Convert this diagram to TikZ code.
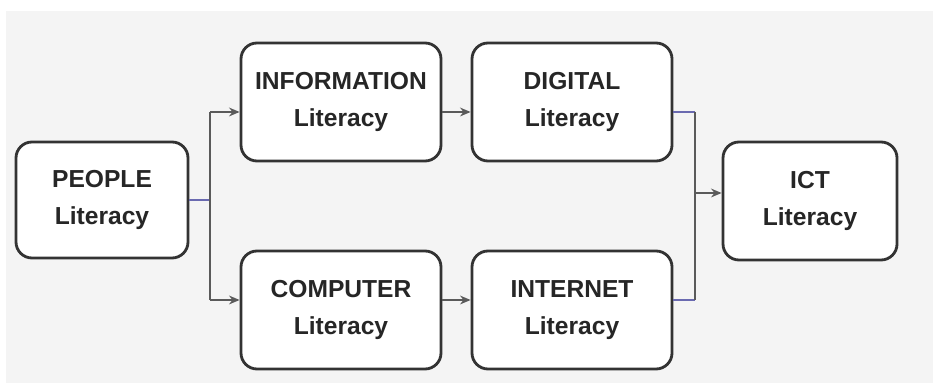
\documentclass[tikz,border=0pt]{standalone}
\usepackage{fontspec}
\setmainfont{Liberation Sans}
\usepackage{tikz}
\usetikzlibrary{arrows.meta, positioning}
\definecolor{bggray}{HTML}{F4F4F4}
\definecolor{boxline}{HTML}{333333}
\definecolor{wire}{HTML}{5A5A5A}
\definecolor{bluewire}{HTML}{6A6AB0}

\begin{document}
\begin{tikzpicture}[
    litbox/.style={draw=boxline, line width=1.6pt, rounded corners=0.32cm, fill=white,
        minimum width=4cm, minimum height=2.36cm, align=center,
        font=\fontsize{14}{21}\selectfont\bfseries, text=black!85},
    conn/.style={draw=wire, line width=0.9pt},
    feed/.style={draw=bluewire, line width=0.9pt},
    arr/.style={conn, -{Stealth[length=6pt,width=5pt]}}
]
    % Background
    \fill[white] (0,0) rectangle (18.66,7.66);
    \fill[bggray] (0.12,0) rectangle (18.66,7.44);
    \useasboundingbox (0,0) rectangle (18.66,7.66);

    % Boxes
    \node[litbox, minimum width=3.44cm, minimum height=2.32cm] (people) at (2.04,3.66) {PEOPLE\\Literacy};
    \node[litbox] (info) at (6.82,5.62) {INFORMATION\\Literacy};
    \node[litbox] (digital) at (11.44,5.62) {DIGITAL\\Literacy};
    \node[litbox] (computer) at (6.82,1.46) {COMPUTER\\Literacy};
    \node[litbox] (internet) at (11.44,1.46) {INTERNET\\Literacy};
    \node[litbox, minimum width=3.48cm] (ict) at (16.2,3.64) {ICT\\Literacy};

    % Split
    \coordinate (split) at (4.2,3.66);
    \coordinate (splittop) at (4.2,5.42);
    \coordinate (splitbot) at (4.2,1.66);
    \draw[feed] (people.east) -- (split);
    \draw[conn] (splittop) -- (splitbot);
    \draw[arr] (splittop) -- ([yshift=-0.2cm]info.west);
    \draw[arr] (splitbot) -- ([yshift=0.2cm]computer.west);

    % Chains
    \draw[arr] ([yshift=-0.2cm]info.east) -- ([yshift=-0.2cm]digital.west);
    \draw[arr] ([yshift=0.2cm]computer.east) -- ([yshift=0.2cm]internet.west);

    % Join
    \coordinate (jointop) at (13.9,5.42);
    \coordinate (joinbot) at (13.9,1.66);
    \coordinate (join) at (13.9,3.8);
    \draw[feed] ([yshift=-0.2cm]digital.east) -- (jointop);
    \draw[feed] ([yshift=0.2cm]internet.east) -- (joinbot);
    \draw[conn] (jointop) -- (joinbot);
    \draw[arr] (join) -- ([yshift=0.16cm]ict.west);
\end{tikzpicture}
\end{document}
